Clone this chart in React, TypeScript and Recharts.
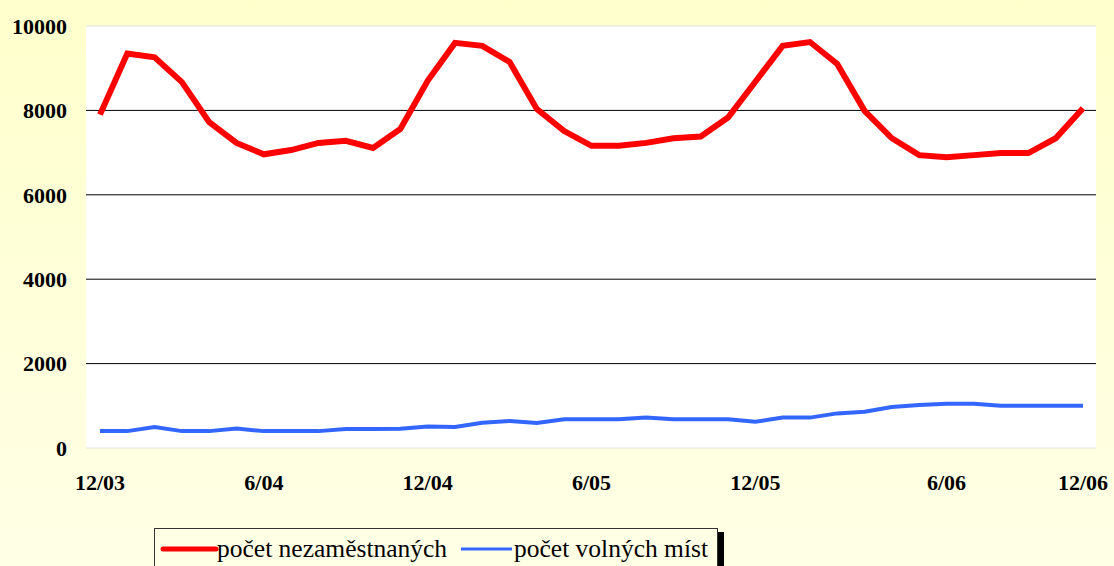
import React from "react";
import {
  LineChart,
  Line,
  XAxis,
  YAxis,
  CartesianGrid,
  ReferenceLine,
} from "recharts";

// month labels (only some are shown on the axis)
const xLabels = [
  "12/03", "", "", "", "", "", "6/04", "", "", "", "", "",
  "12/04", "", "", "", "", "", "6/05", "", "", "", "", "",
  "12/05", "", "", "", "", "", "", "6/06", "", "", "", "", "12/06",
];

const unemployed = [
  7900, 9350, 9260, 8670, 7720, 7230, 6960, 7060, 7230, 7280, 7110, 7560,
  8700, 9600, 9530, 9150, 8030, 7510, 7160, 7160, 7230, 7340, 7380, 7830,
  8680, 9530, 9620, 9100, 7990, 7340, 6940, 6890, 6940, 6990, 6990, 7340, 8050,
];

const vacancies = [
  400, 400, 500, 400, 400, 460, 400, 400, 400, 450, 450, 455,
  510, 500, 600, 640, 590, 680, 680, 680, 720, 680, 680, 680,
  620, 720, 720, 820, 860, 970, 1020, 1050, 1050, 1000, 1000, 1000, 1000,
];

const yTicks = [0, 2000, 4000, 6000, 8000, 10000];
const seriesNames = ["počet nezaměstnaných", "počet volných míst"];

const data = xLabels.map((label, i) => ({
  label,
  unemployed: unemployed[i],
  vacancies: vacancies[i],
}));

const serif = '"Liberation Serif", "Times New Roman", serif';

const tickStyle = {
  fontFamily: serif,
  fontWeight: 700,
  fontSize: 22,
  fill: "#000",
};

function LegendBox() {
  return (
    <svg
      width={580}
      height={40}
      style={{ position: "absolute", left: 153, top: 527 }}
    >
      <rect x={565} y={5} width={6} height={40} fill="#000" />
      <rect x={1.5} y={1.5} width={563} height={45} fill="none" stroke="#333" strokeWidth={1} />
      <line x1={10} x2={63} y1={22} y2={22} stroke="#ff0000" strokeWidth={5} strokeLinecap="round" />
      <text x={64} y={29.5} fontFamily={serif} fontSize={25.5} fill="#000">
        {seriesNames[0]}
      </text>
      <line x1={308} x2={359} y1={22} y2={22} stroke="#3366ff" strokeWidth={3} />
      <text x={361} y={29.5} fontFamily={serif} fontSize={25.5} fill="#000">
        {seriesNames[1]}
      </text>
    </svg>
  );
}

export default function App() {
  return (
    <div
      style={{
        position: "absolute",
        left: 0,
        top: 0,
        width: 1114,
        height: 566,
        overflow: "hidden",
        background: "linear-gradient(#ffffcc, #ffffe6)",
      }}
    >
      <LineChart
        width={1114}
        height={566}
        data={data}
        margin={{ top: 26, right: 18, left: 0, bottom: 78 }}
      >
        <CartesianGrid
          vertical={false}
          horizontalValues={[2000, 4000, 6000, 8000]}
          stroke="#000"
          strokeWidth={1}
          fill="#ffffff"
          fillOpacity={1}
        />
        <ReferenceLine y={10000} stroke="#e2e2e2" strokeWidth={1} />
        <XAxis
          dataKey="label"
          interval={0}
          tickSize={0}
          tickMargin={26}
          height={40}
          tick={tickStyle}
          axisLine={{ stroke: "#e2e2e2" }}
          tickLine={false}
          padding={{ left: 14, right: 13 }}
        />
        <YAxis
          width={86}
          domain={[0, 10000]}
          ticks={yTicks}
          interval={0}
          tickSize={0}
          tickMargin={19}
          tick={tickStyle}
          axisLine={false}
          tickLine={false}
        />
        <Line
          dataKey="unemployed"
          name={seriesNames[0]}
          stroke="#ff0000"
          strokeWidth={6}
          dot={false}
          isAnimationActive={false}
        />
        <Line
          dataKey="vacancies"
          name={seriesNames[1]}
          stroke="#3366ff"
          strokeWidth={4}
          dot={false}
          isAnimationActive={false}
        />
      </LineChart>
      <LegendBox />
    </div>
  );
}
